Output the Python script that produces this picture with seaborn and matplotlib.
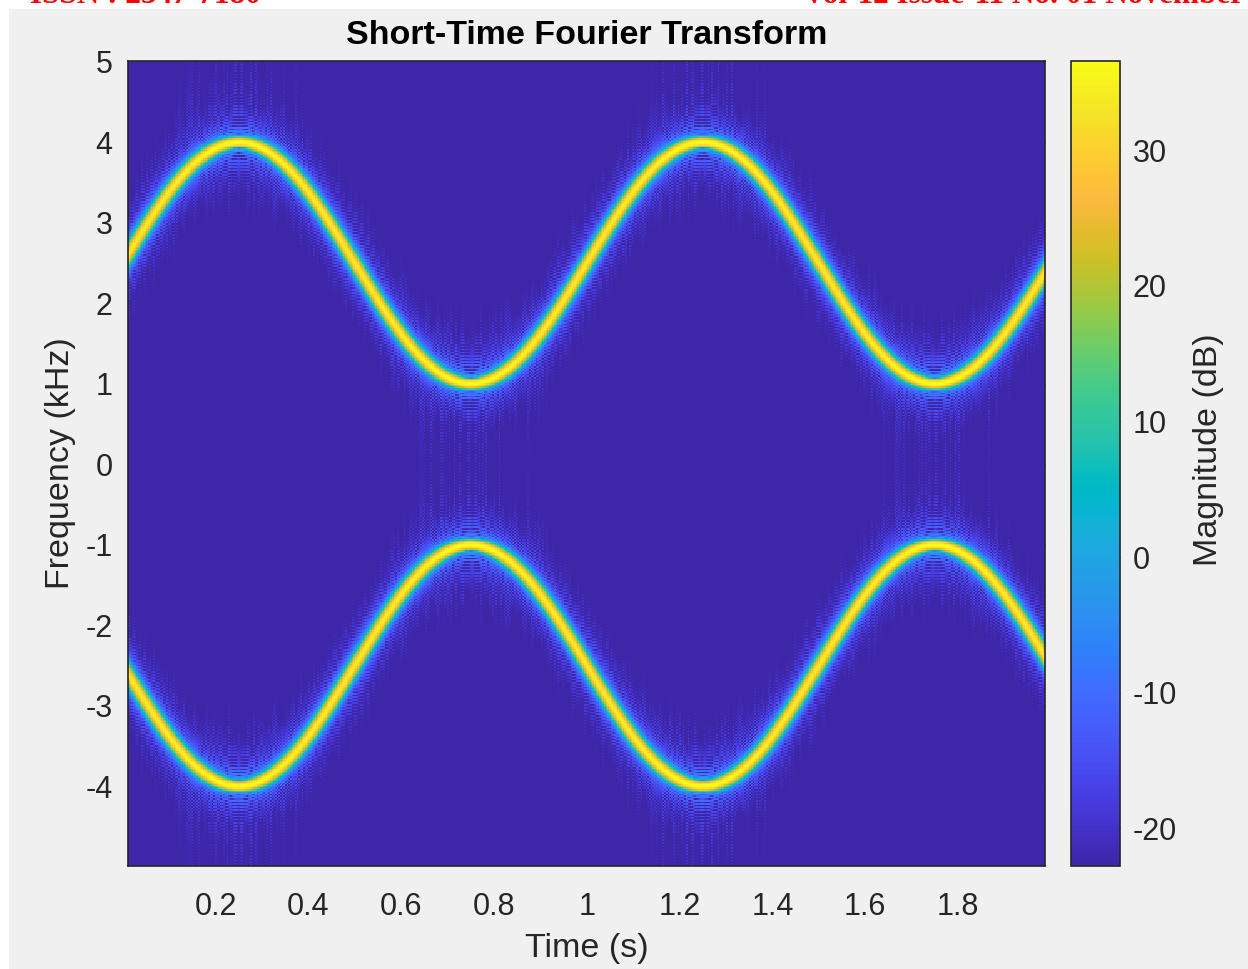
import numpy as np
import matplotlib
matplotlib.use("Agg")
import matplotlib.pyplot as plt
from matplotlib.colors import LinearSegmentedColormap
from matplotlib.patches import Rectangle
import seaborn as sns

# ---------------- data / signal parameters ----------------
fs_hz = 10000.0                 # sample rate
duration_s = 2.0                # signal length
freq_range_hz = [1000.0, 4000.0]  # sinusoidal FM sweeps between 1 and 4 kHz
mod_rate_hz = 1.0               # one sweep cycle per second
window_len = 256                # kaiser window length
kaiser_beta = 5.0
overlap_len = 220
fft_len = 512
clim_db = [-22.8, 36.6]         # colour limits from the colour bar

x_ticks = [0.2, 0.4, 0.6, 0.8, 1.0, 1.2, 1.4, 1.6, 1.8]
x_tick_labels = ["0.2", "0.4", "0.6", "0.8", "1", "1.2", "1.4", "1.6", "1.8"]
y_ticks = [-4, -3, -2, -1, 0, 1, 2, 3, 4, 5]
y_tick_labels = ["-4", "-3", "-2", "-1", "0", "1", "2", "3", "4", "5"]
cbar_ticks = [-20, -10, 0, 10, 20, 30]

title_text = "Short-Time Fourier Transform"
xlabel_text = "Time (s)"
ylabel_text = "Frequency (kHz)"
cbar_label_text = "Magnitude (dB)"
header_left = "ISSN : 2347-7180"
header_right = "Vol-12 Issue-11 No. 01 November"

# ---------------- signal and STFT ----------------
t = np.arange(0, duration_s + 1 / fs_hz / 2, 1 / fs_hz)
fc = (freq_range_hz[0] + freq_range_hz[1]) / 2
fdev = (freq_range_hz[1] - freq_range_hz[0]) / 2
f_inst = fc + fdev * np.sin(2 * np.pi * mod_rate_hz * t)
phase = 2 * np.pi * np.cumsum(f_inst) / fs_hz
x = np.cos(phase)

win = np.kaiser(window_len, kaiser_beta)
hop = window_len - overlap_len
n_frames = (len(x) - window_len) // hop + 1
frames = np.stack([x[i * hop:i * hop + window_len] * win for i in range(n_frames)], axis=1)
spec = np.fft.fft(frames, n=fft_len, axis=0)
k = np.arange(-fft_len // 2 + 1, fft_len // 2 + 1)
spec = spec[k % fft_len, :]
freqs_khz = k * fs_hz / fft_len / 1000.0
frame_times = (window_len / 2 + hop * np.arange(n_frames)) / fs_hz
mag_db = 20 * np.log10(np.abs(spec) + np.finfo(float).eps)

# ---------------- parula colormap ----------------
parula_anchors = [
    [0.2422, 0.1504, 0.6603], [0.2504, 0.1650, 0.7076], [0.2578, 0.1818, 0.7511],
    [0.2647, 0.1978, 0.7952], [0.2706, 0.2147, 0.8364], [0.2751, 0.2342, 0.8710],
    [0.2783, 0.2559, 0.8991], [0.2803, 0.2782, 0.9221], [0.2813, 0.3006, 0.9414],
    [0.2810, 0.3228, 0.9579], [0.2795, 0.3447, 0.9717], [0.2760, 0.3667, 0.9829],
    [0.2699, 0.3892, 0.9906], [0.2602, 0.4123, 0.9952], [0.2440, 0.4358, 0.9988],
    [0.2206, 0.4603, 0.9973], [0.1963, 0.4847, 0.9892], [0.1834, 0.5074, 0.9798],
    [0.1786, 0.5289, 0.9682], [0.1764, 0.5499, 0.9520], [0.1687, 0.5703, 0.9359],
    [0.1540, 0.5902, 0.9218], [0.1460, 0.6091, 0.9079], [0.1380, 0.6276, 0.8973],
    [0.1248, 0.6459, 0.8883], [0.1113, 0.6635, 0.8763], [0.0952, 0.6798, 0.8598],
    [0.0689, 0.6948, 0.8394], [0.0297, 0.7082, 0.8163], [0.0036, 0.7203, 0.7917],
    [0.0067, 0.7312, 0.7660], [0.0433, 0.7411, 0.7394], [0.0964, 0.7500, 0.7120],
    [0.1408, 0.7584, 0.6842], [0.1717, 0.7670, 0.6554], [0.1938, 0.7758, 0.6251],
    [0.2161, 0.7843, 0.5923], [0.2470, 0.7918, 0.5567], [0.2906, 0.7973, 0.5188],
    [0.3406, 0.8008, 0.4789], [0.3909, 0.8029, 0.4354], [0.4456, 0.8024, 0.3909],
    [0.5044, 0.7993, 0.3480], [0.5616, 0.7942, 0.3045], [0.6174, 0.7876, 0.2612],
    [0.6720, 0.7793, 0.2227], [0.7242, 0.7698, 0.1910], [0.7738, 0.7598, 0.1646],
    [0.8203, 0.7498, 0.1535], [0.8634, 0.7406, 0.1596], [0.9035, 0.7330, 0.1774],
    [0.9393, 0.7288, 0.2100], [0.9728, 0.7298, 0.2394], [0.9956, 0.7434, 0.2371],
    [0.9970, 0.7659, 0.2199], [0.9952, 0.7893, 0.2028], [0.9892, 0.8136, 0.1885],
    [0.9786, 0.8386, 0.1766], [0.9676, 0.8639, 0.1643], [0.9610, 0.8890, 0.1537],
    [0.9597, 0.9135, 0.1423], [0.9628, 0.9373, 0.1265], [0.9691, 0.9606, 0.1064],
    [0.9769, 0.9839, 0.0805],
]
parula = LinearSegmentedColormap.from_list("parula", parula_anchors, N=256)

# ---------------- figure ----------------
sns.set_theme(style="white")
plt.rcParams["font.family"] = ["Liberation Sans", "DejaVu Sans"]
TXT = "#262626"

W, H = 1248, 969
fig = plt.figure(figsize=(W / 100, H / 100), dpi=100, facecolor="white")
fig.patches.append(Rectangle((9 / W, 0), 1 - 9 / W, 1 - 9 / H, transform=fig.transFigure,
                             facecolor="#f0f0f0", edgecolor="none", zorder=-10))

ax = fig.add_axes([128 / W, (H - 866) / H, (1045 - 128) / W, (866 - 61) / H])
cax = fig.add_axes([1071 / W, (H - 866) / H, (1120 - 1071) / W, (866 - 61) / H])

sns.heatmap(mag_db, ax=ax, cbar_ax=cax, cmap=parula, vmin=clim_db[0], vmax=clim_db[1],
            xticklabels=False, yticklabels=False, rasterized=True)
ax.set_ylim(0, mag_db.shape[0])
ax.set_xlim(0, mag_db.shape[1])


def t_to_x(v):
    return (np.asarray(v, dtype=float) - frame_times[0]) / (frame_times[1] - frame_times[0]) + 0.5


def f_to_y(v):
    return (np.asarray(v, dtype=float) - freqs_khz[0]) / (freqs_khz[1] - freqs_khz[0]) + 0.5


ax.set_xticks(t_to_x(x_ticks))
ax.set_xticklabels(x_tick_labels)
ax.set_yticks(f_to_y(y_ticks))
ax.set_yticklabels(y_tick_labels, rotation=0)
ax.tick_params(axis="both", direction="in", length=9, width=1, color=TXT,
               labelcolor=TXT, labelsize=22, top=True, right=True)
ax.tick_params(axis="x", pad=19)
ax.tick_params(axis="y", pad=11)
for s in ax.spines.values():
    s.set_visible(True)
    s.set_color(TXT)
    s.set_linewidth(1.2)

ax.set_title(title_text, fontsize=24.5, fontweight="bold", color="black", pad=12)
ax.set_xlabel(xlabel_text, fontsize=24.5, color=TXT)
ax.set_ylabel(ylabel_text, fontsize=24.5, color=TXT)
ax.xaxis.set_label_coords(0.5, (866 - 949) / 805)
ax.xaxis.label.set_va("center")
ax.yaxis.set_label_coords((61 - 128) / 917, 0.5)
ax.yaxis.label.set_va("center")

cbar = ax.collections[0].colorbar
cbar.set_ticks(cbar_ticks)
cbar.set_ticklabels([str(v) for v in cbar_ticks])
cbar.outline.set_linewidth(1.2)
cbar.outline.set_edgecolor(TXT)
cax.tick_params(direction="in", length=9, width=1, color=TXT, labelcolor=TXT,
                labelsize=22, pad=9, right=True, left=False)
cbar.set_label(cbar_label_text, fontsize=24.5, color=TXT)
cax.yaxis.set_label_coords((1208 - 1071) / 49, (866 - 450) / 805)
cax.yaxis.label.set_va("center")

fig.text(30 / W, 1 - 3 / H, header_left, color="red", fontsize=22.5, fontweight="bold",
         family="Liberation Serif", ha="left", va="baseline")
fig.text(803 / W, 1 - 3 / H, header_right, color="red", fontsize=22.5, fontweight="bold",
         family="Liberation Serif", ha="left", va="baseline")

fig.savefig("out.png", dpi=100, facecolor=fig.get_facecolor())
